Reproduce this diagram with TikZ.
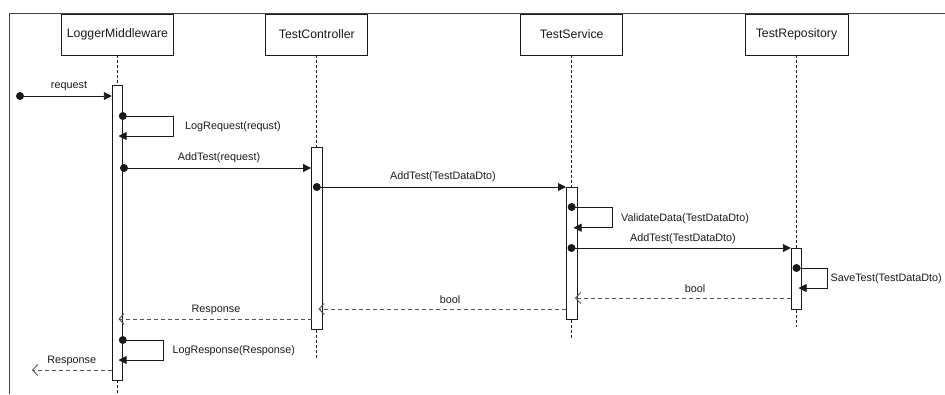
\documentclass[tikz,border=0pt]{standalone}
\usepackage{fontspec}
\setmainfont{Liberation Sans}
\usetikzlibrary{arrows.meta}

\definecolor{frameline}{HTML}{444444}
\definecolor{ink}{HTML}{1A1A1A}
\definecolor{retline}{HTML}{555555}

\tikzset{
  header/.style={draw=ink, line width=0.9pt, minimum height=41pt, inner sep=0pt,
    font=\fontsize{12.3}{14}\selectfont, text=ink},
  actbar/.style={draw=ink, fill=white, line width=0.9pt, minimum width=10.5pt,
    inner sep=0pt, anchor=north},
  lifeline/.style={draw=ink, line width=0.8pt, dash pattern=on 3pt off 2pt},
  msg/.style={draw=ink, line width=0.9pt, -{Triangle[length=8pt,width=8pt]}},
  ret/.style={draw=retline, line width=0.8pt, dash pattern=on 4pt off 3pt,
    -{Straight Barb[length=5pt,width=11pt,line width=0.9pt]}},
  lbl/.style={font=\fontsize{10.8}{13}\selectfont, text=ink, inner sep=0pt},
}

\begin{document}
\begin{tikzpicture}[x=1pt, y=-1pt]
  \useasboundingbox (0,0) rectangle (945,394);

  % frame edges
  \draw[frameline, line width=0.9pt] (9,394) -- (9,13) -- (945,13);

  % participants
  \node[header, minimum width=112pt] (hLM) at (117.5,34.5) {LoggerMiddleware};
  \node[header, minimum width=102pt] (hTC) at (316.8,34.5) {TestController};
  \node[header, minimum width=102pt] (hTS) at (571.7,34.5) {TestService};
  \node[header, minimum width=103pt] (hTR) at (796.5,34.5) {TestRepository};

  % lifeline ends
  \coordinate (eLM) at (117.5,394);
  \coordinate (eTC) at (316.8,358);
  \coordinate (eTS) at (571.7,338);
  \coordinate (eTR) at (796.5,327);

  \draw[lifeline] (hLM.south) -- (eLM);
  \draw[lifeline] (hTC.south) -- (eTC);
  \draw[lifeline] (hTS.south) -- (eTS);
  \draw[lifeline] (hTR.south) -- (eTR);

  % activation bars
  \node[actbar, minimum height=295pt] (aLM) at (117.5,85) {};
  \node[actbar, minimum height=182pt] (aTC) at (316.8,147) {};
  \node[actbar, minimum height=132pt] (aTS) at (571.7,187) {};
  \node[actbar, minimum height=61pt]  (aTR) at (796.5,248) {};

  % message end points
  \coordinate (reqS) at (20,96);
  \coordinate (lrqS) at (122.8,116);
  \coordinate (lrqE) at (118.5,136);
  \coordinate (at1S) at (124,168);
  \coordinate (at2S) at (316.8,187);
  \coordinate (valS) at (571.7,207);
  \coordinate (valE) at (573.5,227.7);
  \coordinate (at3S) at (571.5,248);
  \coordinate (savS) at (796.5,268);
  \coordinate (savE) at (798.5,288);
  \coordinate (bo1S) at (791.3,298);
  \coordinate (bo1E) at (575,298);
  \coordinate (bo2S) at (566.4,309);
  \coordinate (bo2E) at (318.5,309);
  \coordinate (rs1S) at (311.5,319);
  \coordinate (rs1E) at (118.5,319);
  \coordinate (lrsS) at (122.8,340);
  \coordinate (lrsE) at (118.5,360);
  \coordinate (rs2E) at (32,370);

  % synchronous calls
  \draw[msg] (reqS) -- (aLM.west |- reqS);
  \draw[msg] (lrqS) -- ++(51,0) |- (lrqE);
  \draw[msg] (at1S) -- (aTC.west |- at1S);
  \draw[msg] (at2S) -- (aTS.west |- at2S);
  \draw[msg] (valS) -- ++(41,0) |- (valE);
  \draw[msg] (at3S) -- (aTR.west |- at3S);
  \draw[msg] (savS) -- ++(30.5,0) |- (savE);
  \draw[msg] (lrsS) -- ++(40.5,0) |- (lrsE);

  % returns
  \draw[ret] (bo1S) -- (bo1E);
  \draw[ret] (bo2S) -- (bo2E);
  \draw[ret] (rs1S) -- (rs1E);
  \draw[ret] (aLM.west |- rs2E) -- (rs2E);

  % start dots
  \foreach \p in {reqS,lrqS,at1S,at2S,valS,at3S,savS,lrsS}
    \fill[ink] (\p) circle (4);

  % labels
  \node[lbl] (tReq) at (69,86) {request};
  \node[lbl, anchor=west] (tLrq) at (185,127) {LogRequest(requst)};
  \node[lbl] (tAt1) at (219,158) {AddTest(request)};
  \node[lbl] (tAt2) at (443,177) {AddTest(TestDataDto)};
  \node[lbl, anchor=west] (tVal) at (621,218.3) {ValidateData(TestDataDto)};
  \node[lbl] (tAt3) at (683,239) {AddTest(TestDataDto)};
  \node[lbl, anchor=west] (tSav) at (830.5,279) {SaveTest(TestDataDto)};
  \node[lbl] (tBo1) at (695,289) {bool};
  \node[lbl] (tBo2) at (450,299.5) {bool};
  \node[lbl] (tRs1) at (216,309.5) {Response};
  \node[lbl, anchor=west] (tLrs) at (172.3,350.7) {LogResponse(Response)};
  \node[lbl] (tRs2) at (71.7,360.7) {Response};
\end{tikzpicture}
\end{document}
